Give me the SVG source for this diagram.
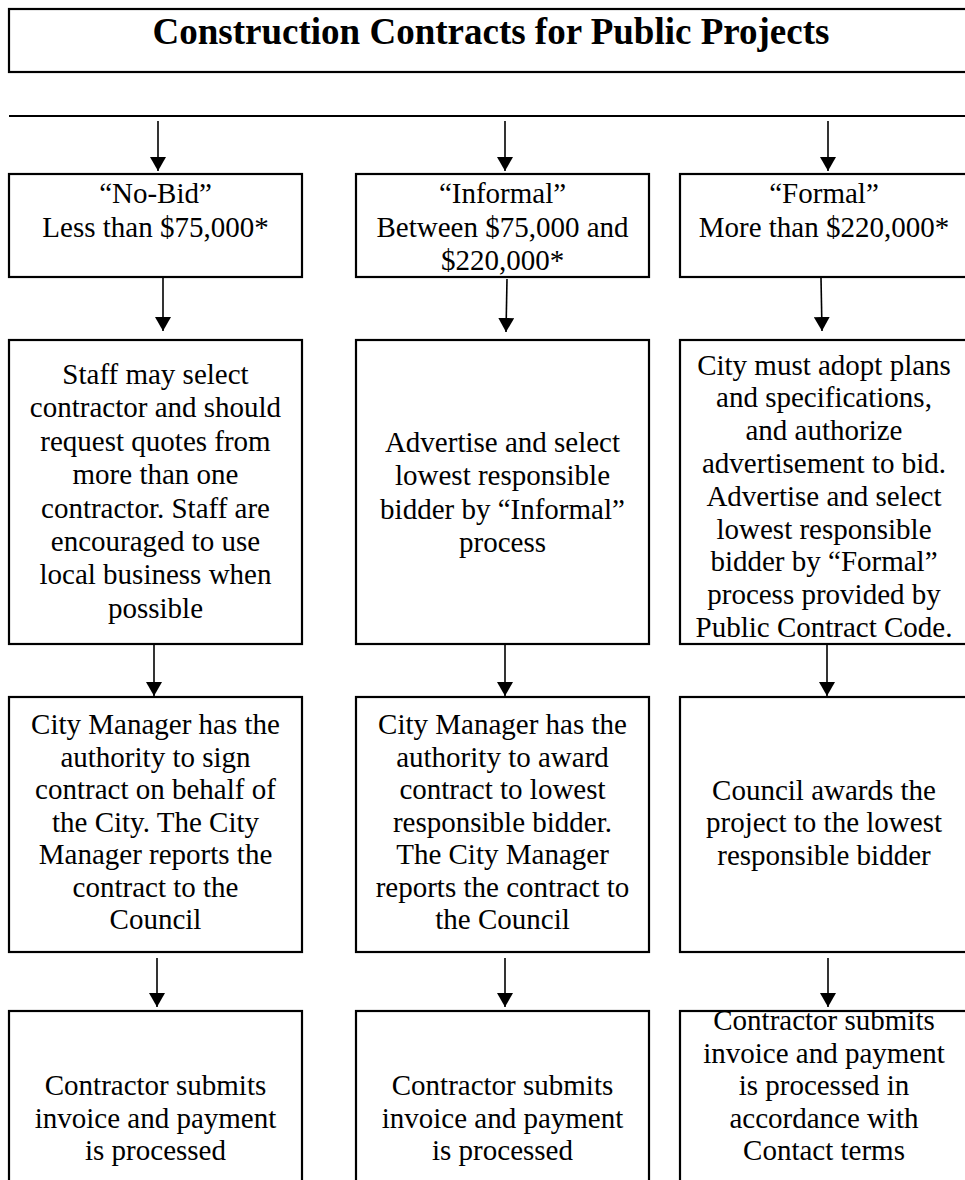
<svg xmlns="http://www.w3.org/2000/svg" width="965" height="1180" viewBox="0 0 965 1180">
  <style>
    .box { fill: #ffffff; stroke: #000000; stroke-width: 2.2; }
    .t { font-family: "Liberation Serif", "Times New Roman", serif; font-size: 29px; fill: #000000; text-anchor: middle; }
    .title { font-family: "Liberation Serif", "Times New Roman", serif; font-size: 37px; font-weight: bold; fill: #000000; text-anchor: middle; }
    .wire { stroke: #000000; stroke-width: 1.6; fill: none; marker-end: url(#head); }
    .bar { stroke: #000000; stroke-width: 2.2; fill: none; }
  </style>
  <defs>
    <marker id="head" markerUnits="userSpaceOnUse" markerWidth="18" markerHeight="16" refX="14" refY="8" orient="auto">
      <path d="M0,0 L14,8 L0,16 Z" fill="#000000"/>
    </marker>
  </defs>
  <rect width="965" height="1180" fill="#ffffff"/>

  <!-- Heading -->
  <g id="title">
    <rect class="box" x="9" y="9" width="966" height="63"/>
    <text class="title" x="491" y="44">Construction Contracts for Public Projects</text>
  </g>

  <!-- Connectors -->
  <g id="connectors">
    <line class="bar" x1="9" y1="116" x2="965" y2="116"/>
    <line class="wire" x1="158" y1="121" x2="158" y2="171"/>
    <line class="wire" x1="505" y1="121" x2="505" y2="171"/>
    <line class="wire" x1="828" y1="121" x2="828" y2="171"/>

    <line class="wire" x1="163" y1="278" x2="163" y2="331"/>
    <line class="wire" x1="507" y1="279" x2="506" y2="332"/>
    <line class="wire" x1="821" y1="278" x2="822" y2="331"/>

    <line class="wire" x1="154" y1="645" x2="154" y2="696"/>
    <line class="wire" x1="505" y1="645" x2="505" y2="696"/>
    <line class="wire" x1="827" y1="645" x2="827" y2="696"/>

    <line class="wire" x1="157" y1="958" x2="157" y2="1007"/>
    <line class="wire" x1="505" y1="958" x2="505" y2="1007"/>
    <line class="wire" x1="828" y1="958" x2="828" y2="1007"/>
  </g>

  <!-- Row 1: thresholds -->
  <g id="no-bid">
    <rect class="box" x="9" y="174" width="293" height="103"/>
    <text class="t" x="155.5" y="203">“No-Bid”</text>
    <text class="t" x="155.5" y="236.5">Less than $75,000*</text>
  </g>
  <g id="informal">
    <rect class="box" x="356" y="174" width="293" height="103"/>
    <text class="t" x="502.5" y="203">“Informal”</text>
    <text class="t" x="502.5" y="236.5">Between $75,000 and</text>
    <text class="t" x="502.5" y="270">$220,000*</text>
  </g>
  <g id="formal">
    <rect class="box" x="680" y="174" width="290" height="103"/>
    <text class="t" x="824" y="203">“Formal”</text>
    <text class="t" x="824" y="236.5">More than $220,000*</text>
  </g>

  <!-- Row 2: selection -->
  <g id="no-bid-select">
    <rect class="box" x="9" y="340" width="293" height="304"/>
    <text class="t" x="155.5" y="384">Staff may select</text>
    <text class="t" x="155.5" y="417.4">contractor and should</text>
    <text class="t" x="155.5" y="450.8">request quotes from</text>
    <text class="t" x="155.5" y="484.2">more than one</text>
    <text class="t" x="155.5" y="517.6">contractor. Staff are</text>
    <text class="t" x="155.5" y="551">encouraged to use</text>
    <text class="t" x="155.5" y="584.4">local business when</text>
    <text class="t" x="155.5" y="617.8">possible</text>
  </g>
  <g id="informal-select">
    <rect class="box" x="356" y="340" width="293" height="304"/>
    <text class="t" x="502.5" y="451.7">Advertise and select</text>
    <text class="t" x="502.5" y="485.1">lowest responsible</text>
    <text class="t" x="502.5" y="518.5">bidder by “Informal”</text>
    <text class="t" x="502.5" y="551.9">process</text>
  </g>
  <g id="formal-select">
    <rect class="box" x="680" y="340" width="290" height="304"/>
    <text class="t" x="824" y="374.5">City must adopt plans</text>
    <text class="t" x="824" y="407.3">and specifications,</text>
    <text class="t" x="824" y="440.1">and authorize</text>
    <text class="t" x="824" y="472.9">advertisement to bid.</text>
    <text class="t" x="824" y="505.7">Advertise and select</text>
    <text class="t" x="824" y="538.5">lowest responsible</text>
    <text class="t" x="824" y="571.3">bidder by “Formal”</text>
    <text class="t" x="824" y="604.1">process provided by</text>
    <text class="t" x="824" y="636.9">Public Contract Code.</text>
  </g>

  <!-- Row 3: award -->
  <g id="no-bid-award">
    <rect class="box" x="9" y="697" width="293" height="255"/>
    <text class="t" x="155.5" y="734">City Manager has the</text>
    <text class="t" x="155.5" y="766.5">authority to sign</text>
    <text class="t" x="155.5" y="799">contract on behalf of</text>
    <text class="t" x="155.5" y="831.5">the City. The City</text>
    <text class="t" x="155.5" y="864">Manager reports the</text>
    <text class="t" x="155.5" y="896.5">contract to the</text>
    <text class="t" x="155.5" y="929">Council</text>
  </g>
  <g id="informal-award">
    <rect class="box" x="356" y="697" width="293" height="255"/>
    <text class="t" x="502.5" y="734">City Manager has the</text>
    <text class="t" x="502.5" y="766.5">authority to award</text>
    <text class="t" x="502.5" y="799">contract to lowest</text>
    <text class="t" x="502.5" y="831.5">responsible bidder.</text>
    <text class="t" x="502.5" y="864">The City Manager</text>
    <text class="t" x="502.5" y="896.5">reports the contract to</text>
    <text class="t" x="502.5" y="929">the Council</text>
  </g>
  <g id="formal-award">
    <rect class="box" x="680" y="697" width="290" height="255"/>
    <text class="t" x="824" y="799.5">Council awards the</text>
    <text class="t" x="824" y="832">project to the lowest</text>
    <text class="t" x="824" y="864.5">responsible bidder</text>
  </g>

  <!-- Row 4: payment -->
  <g id="no-bid-pay">
    <rect class="box" x="9" y="1011" width="293" height="190"/>
    <text class="t" x="155.5" y="1095">Contractor submits</text>
    <text class="t" x="155.5" y="1127.5">invoice and payment</text>
    <text class="t" x="155.5" y="1160">is processed</text>
  </g>
  <g id="informal-pay">
    <rect class="box" x="356" y="1011" width="293" height="190"/>
    <text class="t" x="502.5" y="1095">Contractor submits</text>
    <text class="t" x="502.5" y="1127.5">invoice and payment</text>
    <text class="t" x="502.5" y="1160">is processed</text>
  </g>
  <g id="formal-pay">
    <rect class="box" x="680" y="1011" width="290" height="190"/>
    <text class="t" x="824" y="1030">Contractor submits</text>
    <text class="t" x="824" y="1062.5">invoice and payment</text>
    <text class="t" x="824" y="1095">is processed in</text>
    <text class="t" x="824" y="1127.5">accordance with</text>
    <text class="t" x="824" y="1160">Contact terms</text>
  </g>
</svg>
